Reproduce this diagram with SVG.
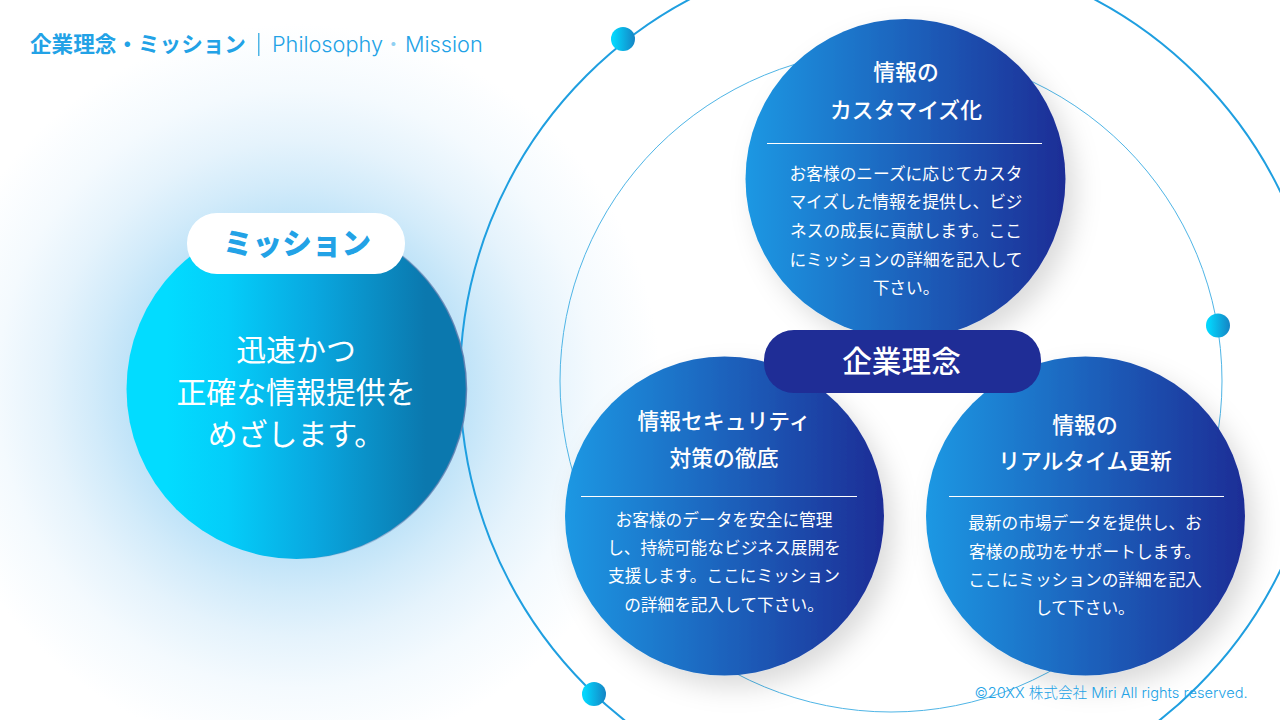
<svg xmlns="http://www.w3.org/2000/svg" width="1280" height="720" viewBox="0 0 1280 720">
<style>
text{font-family:"Noto Sans CJK JP","Noto Sans",sans-serif;text-anchor:middle}
.h{font-size:21.8px;font-weight:500;fill:#fff}
.b{font-size:16.7px;font-weight:400;fill:#fff}
.m{font-size:29.9px;font-weight:400;fill:#fff}
.t{font-family:Inter,"Noto Sans CJK JP",sans-serif;font-size:21.7px;font-weight:300;fill:#22a2e6;text-anchor:start}
.rule{stroke:#fff;stroke-width:1}
.big{fill:url(#blue);filter:url(#sh)}
.dot{fill:url(#dotg)}
</style>
<defs>
<radialGradient id="glow" gradientUnits="userSpaceOnUse" cx="296" cy="389" r="365">
<stop offset="0.46" stop-color="#bfe3f8"/><stop offset="0.56" stop-color="#d2ebfa"/><stop offset="0.68" stop-color="#e5f3fc"/><stop offset="0.82" stop-color="#f4fafe"/><stop offset="1" stop-color="#fff"/>
</radialGradient>
<linearGradient id="mis" x1="0" x2="1" y1="0" y2="0"><stop offset="0.12" stop-color="#02dcff"/><stop offset="0.3" stop-color="#04cdf9"/><stop offset="0.55" stop-color="#09a8e0"/><stop offset="0.88" stop-color="#0b78ae"/></linearGradient>
<linearGradient id="edge" x1="0" x2="1" y1="0" y2="0"><stop offset="0.5" stop-color="#5f7fb0" stop-opacity="0"/><stop offset="1" stop-color="#5f7fb0" stop-opacity="0.9"/></linearGradient>
<linearGradient id="blue" x1="0" x2="1" y1="0" y2="0"><stop offset="0" stop-color="#1a98e3"/><stop offset="1" stop-color="#1f2d96"/></linearGradient>
<linearGradient id="dotg" x1="0" x2="1" y1="0" y2="0"><stop offset="0.1" stop-color="#03d6fd"/><stop offset="1" stop-color="#1584c4"/></linearGradient>
<filter id="sh" x="-20%" y="-20%" width="150%" height="150%"><feDropShadow dx="10" dy="12" stdDeviation="13" flood-color="#000" flood-opacity="0.14"/></filter>
</defs>
<rect width="1280" height="720" fill="#fff"/>
<rect x="0" y="0" width="661" height="720" fill="url(#glow)"/>
<g id="connectors" fill="none">
<circle cx="892" cy="381" r="432" stroke="#1f9fe0" stroke-width="2"/>
<circle cx="891" cy="381" r="331" stroke="#4fb5e6" stroke-width="1"/>
</g>
<g id="title">
<text x="30" y="52" style="font-size:21.6px;font-weight:700;fill:#22a2e6;text-anchor:start">企業理念・ミッション</text>
<rect x="258" y="33" width="1.500" height="23" fill="#4fb5e6"/>
<text class="t" x="272" y="52">Philosophy</text>
<text class="t" x="382.500" y="52" style="fill-opacity:.5">・</text>
<text class="t" x="405" y="52">Mission</text>
</g>
<g id="dot1"><circle class="dot" cx="623" cy="39" r="12"/></g>
<g id="dot2"><circle class="dot" cx="1218" cy="325.500" r="12"/></g>
<g id="dot3"><circle class="dot" cx="594" cy="694" r="12"/></g>
<g id="mission">
<circle cx="296.500" cy="389" r="170" fill="url(#mis)" stroke="url(#edge)" stroke-width="1.500"/>
<rect x="187" y="213" width="218" height="61" rx="30" fill="#fff"/>
<text x="297" y="254" style="font-size:29.6px;font-weight:800;fill:#22a2e6">ミッション</text>
<text class="m" x="296" y="361">迅速かつ</text>
<text class="m" x="296" y="403">正確な情報提供を</text>
<text class="m" x="296" y="445">めざします。</text>
</g>
<g id="custom">
<circle class="big" cx="905.500" cy="179" r="160"/>
<text class="h" x="906" y="80">情報の</text>
<text class="h" x="906" y="118">カスタマイズ化</text>
<line class="rule" x1="767" x2="1042" y1="143.500" y2="143.500"/>
<text class="b" x="906" y="180">お客様のニーズに応じてカスタ</text>
<text class="b" x="906" y="208">マイズした情報を提供し、ビジ</text>
<text class="b" x="906" y="237">ネスの成長に貢献します。ここ</text>
<text class="b" x="906" y="266">にミッションの詳細を記入して</text>
<text class="b" x="906" y="294">下さい。</text>
</g>
<g id="security">
<circle class="big" cx="724.500" cy="516" r="159.500"/>
<text class="h" x="724" y="429">情報セキュリティ</text>
<text class="h" x="724" y="466">対策の徹底</text>
<line class="rule" x1="581" x2="857" y1="496.500" y2="496.500"/>
<text class="b" x="724" y="526">お客様のデータを安全に管理</text>
<text class="b" x="724" y="554">し、持続可能なビジネス展開を</text>
<text class="b" x="724" y="582">支援します。ここにミッション</text>
<text class="b" x="724" y="611">の詳細を記入して下さい。</text>
</g>
<g id="realtime">
<circle class="big" cx="1085.500" cy="516" r="159.500"/>
<text class="h" x="1085" y="433">情報の</text>
<text class="h" x="1085" y="469">リアルタイム更新</text>
<line class="rule" x1="949" x2="1224" y1="496.500" y2="496.500"/>
<text class="b" x="1085" y="529">最新の市場データを提供し、お</text>
<text class="b" x="1085" y="558">客様の成功をサポートします。</text>
<text class="b" x="1085" y="586">ここにミッションの詳細を記入</text>
<text class="b" x="1085" y="614">して下さい。</text>
</g>
<g id="philosophy">
<rect x="764" y="330" width="277" height="63" rx="30" fill="#1f2d96"/>
<text x="901.500" y="372" style="font-size:29.700px;font-weight:500;fill:#fff">企業理念</text>
</g>
<text x="1111" y="698" style="font-family:Inter,'Noto Sans CJK JP',sans-serif;font-size:14.600px;font-weight:300;fill:#22a2e6">©20XX 株式会社 Miri All rights reserved.</text>
</svg>
